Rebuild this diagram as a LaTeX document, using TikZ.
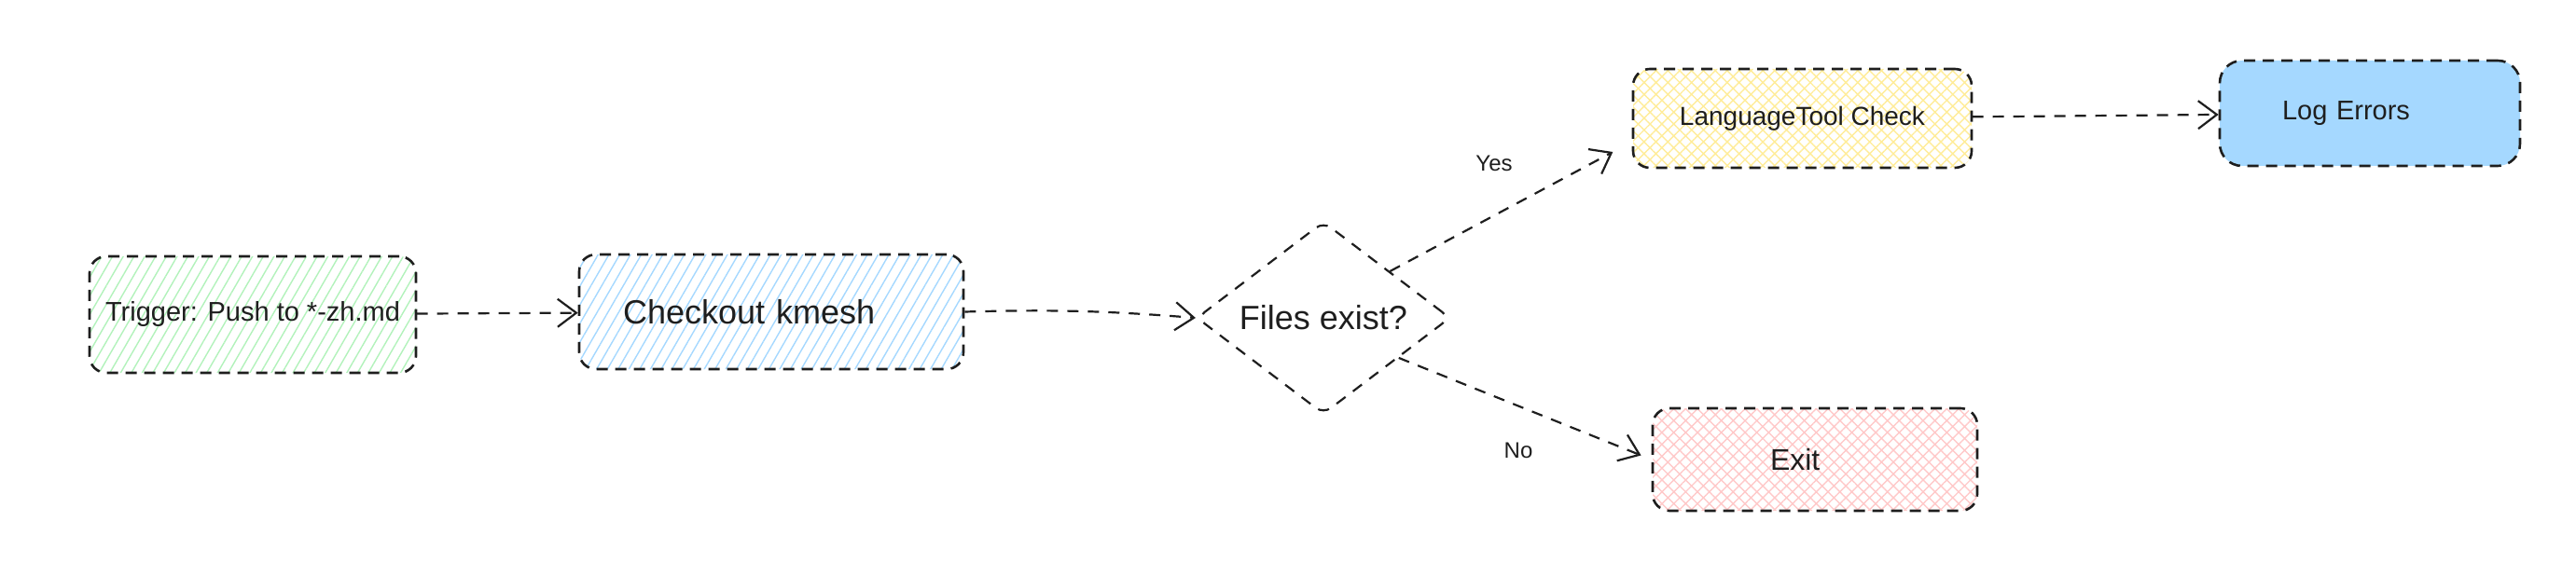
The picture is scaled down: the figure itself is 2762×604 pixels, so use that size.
\documentclass[tikz,border=0pt]{standalone}
\usepackage{fontspec}
\setmainfont{Liberation Sans}
\usetikzlibrary{shapes.geometric,arrows.meta,patterns.meta}
\definecolor{hgreen}{HTML}{B2F2BB}
\definecolor{hblue}{HTML}{A5D8FF}
\definecolor{hyellow}{HTML}{FFEC99}
\definecolor{hred}{HTML}{FFC9C9}
\definecolor{ink}{HTML}{1E1E1E}
\begin{document}
\begin{tikzpicture}[x=0.5pt,y=-0.5pt,
        box/.style={draw=ink,line width=1.3pt,dash pattern=on 6pt off 4pt,rounded corners=9pt,inner sep=0pt},
        flow/.style={draw=ink,line width=1.1pt,dash pattern=on 6pt off 5pt,
            -{Straight Barb[length=10pt,width=15pt,line width=1.1pt]}},
        lbl/.style={text=ink,font=\fontsize{12}{14}\selectfont}]
    \useasboundingbox (0,0) rectangle (2762,604);
    % boxes
    \node[box,minimum width=175pt,minimum height=62.5pt,text=ink,
        pattern={Lines[angle=60,distance=5pt,line width=0.7pt]},pattern color=hgreen,
        font=\fontsize{14.5}{17}\selectfont] (trig) at (271,337.5) {Trigger: Push to *-zh.md};
    \node[box,minimum width=206pt,minimum height=61.5pt,inner xsep=23.5pt,text width=159pt,align=left,text=ink,
        pattern={Lines[angle=60,distance=5pt,line width=0.7pt]},pattern color=hblue,
        font=\fontsize{18}{21}\selectfont] (chk) at (827,334.5) {Checkout kmesh};
    \node[box,diamond,rounded corners=5pt,line width=1.1pt,dash pattern=on 6pt off 5pt,
        minimum width=136pt,minimum height=101pt,text=ink,
        font=\fontsize{18}{21}\selectfont] (dec) at (1419,341) {Files exist?};
    \node[box,minimum width=181.5pt,minimum height=53pt,text=ink,
        pattern={Hatch[angle=45,distance=4.5pt,line width=0.7pt]},pattern color=hyellow,
        font=\fontsize{14}{16}\selectfont] (lang) at (1932.5,127) {LanguageTool Check};
    \node[box,rounded corners=12pt,minimum width=161pt,minimum height=56.5pt,fill=hblue,
        inner xsep=33.5pt,text width=94pt,align=left,text=ink,
        font=\fontsize{14.5}{17}\selectfont] (log) at (2541,121.5) {Log Errors};
    \node[box,minimum width=174pt,minimum height=55pt,inner xsep=63pt,text width=48pt,align=left,text=ink,
        pattern={Hatch[angle=45,distance=4.5pt,line width=0.7pt]},pattern color=hred,
        font=\fontsize{16}{19}\selectfont] (exit) at (1946,493) {Exit};
    % connectors
    \draw[flow] (trig) -- (chk);
    \draw[flow] (chk.east) to[bend left=3] (dec.west);
    \draw[flow] (dec.35) -- ([shift={(-10.5pt,-18pt)}]lang.west);
    \draw[flow,shorten >=6pt] (dec.-28) -- (exit.west);
    \draw[flow] (lang) -- (log);
    \node[lbl] (yes) at (1602,175) {Yes};
    \node[lbl] (no) at (1628,483) {No};
\end{tikzpicture}
\end{document}
